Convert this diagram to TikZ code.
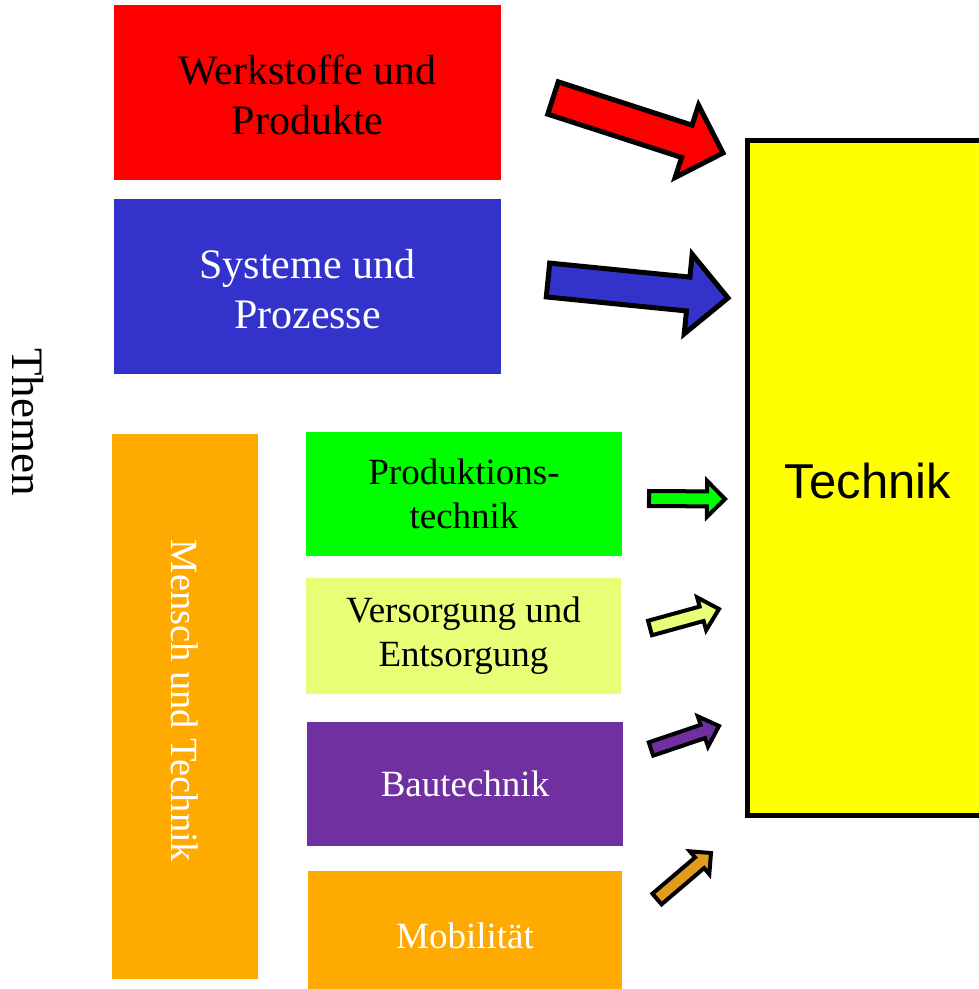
\documentclass[tikz,border=0pt]{standalone}
\usepackage{fontspec}
\setmainfont{Liberation Serif}
\newfontfamily\arialf{Liberation Sans}
\usetikzlibrary{calc}
\definecolor{cred}{HTML}{FF0000}
\definecolor{cblue}{HTML}{3333CC}
\definecolor{cgreen}{HTML}{00FF00}
\definecolor{clight}{HTML}{E6FF77}
\definecolor{cpurple}{HTML}{7030A0}
\definecolor{corange}{HTML}{FFAA00}
\definecolor{carrorange}{HTML}{E39B1F}
\definecolor{cyellow}{HTML}{FFFF00}
\tikzset{
  box/.style={rectangle, inner sep=0pt, align=center},
  bigtext/.style={font=\fontsize{42}{50}\selectfont},
  smalltext/.style={font=\fontsize{37}{44}\selectfont},
  arrowline/.style={draw=black, line join=miter},
}
\newcommand\blockarrow[7]{%
  % #1 fill, #2 start, #3 end, #4 shaft half, #5 head half, #6 head length, #7 line width
  \coordinate (hb) at ($(#3)!#6!(#2)$);
  \filldraw[arrowline, fill=#1, line width=#7]
    ($(#2)!#4!90:(#3)$) -- ($(hb)!#4!90:(#3)$) -- ($(hb)!#5!90:(#3)$) -- (#3)
    -- ($(hb)!#5!-90:(#3)$) -- ($(hb)!#4!-90:(#3)$) -- ($(#2)!#4!-90:(#3)$) -- cycle;
}
\begin{document}
\begin{tikzpicture}[x=1pt,y=-1pt]
\useasboundingbox (0,0) rectangle (979,989);

% left column boxes
\node[box, fill=cred, minimum width=387pt, minimum height=175pt] (werk) at (307.5,92.5) {};
\node[bigtext, align=center, inner sep=0pt] (werktxt) at (307.5,94.5) {Werkstoffe und\\Produkte};
\node[box, fill=cblue, minimum width=387pt, minimum height=175pt] (sys) at (307.5,286.5) {};
\node[bigtext, align=center, inner sep=0pt, text=white] (systxt) at (307.5,289) {Systeme und\\Prozesse};
\node[box, fill=corange, minimum width=146pt, minimum height=545pt] (mensch) at (185,706.5) {};
\node[rotate=-90, text=white, font=\fontsize{38.5}{46}\selectfont, inner sep=0pt] (menschtxt) at (185,701) {Mensch und Technik};
\node[rotate=-90, font=\fontsize{45}{54}\selectfont, inner sep=0pt] (themen) at (28,422) {Themen};

\node[box, fill=cgreen, minimum width=316pt, minimum height=124pt, smalltext] (prod) at (464,494) {Produktions-\\technik};
\node[box, fill=clight, minimum width=315pt, minimum height=116pt, smalltext] (vers) at (463.5,636) {Versorgung und\\Entsorgung};
\node[box, fill=cpurple, minimum width=316pt, minimum height=124pt, smalltext, text=white] (bau) at (465,784) {Bautechnik};
\node[box, fill=corange, minimum width=314pt, minimum height=130pt] (mob) at (465,936) {};
\node[smalltext, text=white, inner sep=0pt] (mobtxt) at (465,936) {Mobilit\"at};

% Technik box
\draw[fill=cyellow, line width=5pt, line join=miter] (747,140) rectangle (1000,815);
\node[font=\arialf\fontsize{49}{57}\selectfont, inner sep=0pt] (technik) at (868,481) {Technik};

% block arrows
\coordinate (ra1) at (553,98);  \coordinate (ra2) at (723,153);
\coordinate (ba1) at (548,280); \coordinate (ba2) at (728,298);
\coordinate (ga1) at (649,498.5); \coordinate (ga2) at (725,499);
\coordinate (la1) at (650,628); \coordinate (la2) at (719,609);
\coordinate (pa1) at (651,749); \coordinate (pa2) at (719,726);
\coordinate (oa1) at (657,899); \coordinate (oa2) at (711,853);

\blockarrow{cred}{ra1}{ra2}{17pt}{38pt}{38pt}{5pt}
\blockarrow{cblue}{ba1}{ba2}{17pt}{40pt}{40pt}{5pt}
\blockarrow{cgreen}{ga1}{ga2}{7.5pt}{18pt}{18pt}{4pt}
\blockarrow{clight}{la1}{la2}{7.5pt}{17pt}{18pt}{4pt}
\blockarrow{cpurple}{pa1}{pa2}{7pt}{16pt}{17pt}{4pt}
\blockarrow{carrorange}{oa1}{oa2}{7pt}{15pt}{15pt}{4pt}
\end{tikzpicture}
\end{document}
